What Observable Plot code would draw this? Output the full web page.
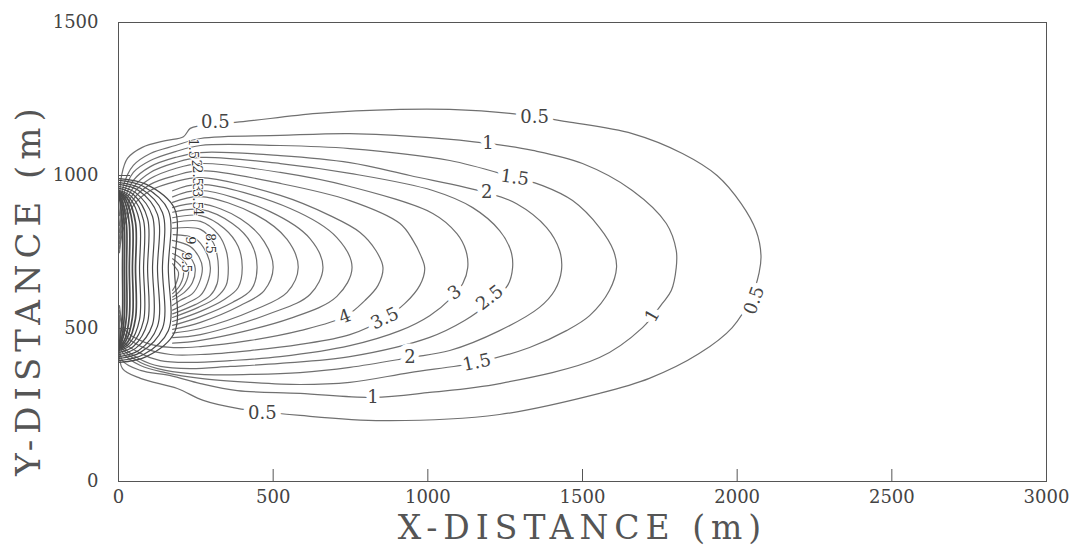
<!DOCTYPE html>
<html><head><meta charset="utf-8">
<script src="https://cdn.jsdelivr.net/npm/d3@7"></script>
<script src="https://cdn.jsdelivr.net/npm/@observablehq/plot@0.6"></script>
<style>
body{margin:0;background:#fff;}
#chart svg{display:block;}
</style></head><body><div id="chart"></div>
<script>
// Tick values
const xTicks = [0, 500, 1000, 1500, 2000, 2500, 3000];
const yTicks = [0, 500, 1000, 1500];
const xTitle = ["X-DISTANCE (m)"];
const yTitle = ["Y-DISTANCE (m)"];

// Contour points [x (m), y (m)]
const c0_5 = [[3,918],[10,1000],[29,1056],[77,1092],[152,1114],[210,1127],[232,1154],[265,1163],[403,1176],[642,1203],[910,1216],[1071,1216],[1265,1203],[1448,1176],[1661,1137],[1823,1072],[1935,1000],[2013,908],[2061,820],[2077,739],[2071,683],[2045,601],[1984,503],[1877,418],[1716,337],[1555,288],[1232,219],[855,199],[587,216],[384,239],[274,265],[190,304],[71,337],[13,369],[3,428]];
const c1 = [[3,869],[16,967],[48,1033],[103,1072],[184,1098],[265,1121],[523,1131],[748,1137],[1006,1124],[1194,1105],[1339,1082],[1500,1039],[1661,951],[1771,843],[1803,755],[1803,699],[1787,624],[1758,582],[1694,503],[1555,405],[1232,320],[1006,291],[823,275],[587,288],[384,297],[265,320],[168,346],[71,363],[13,395],[3,461]];
const c1_5 = [[3,837],[16,935],[48,1010],[103,1049],[184,1078],[265,1098],[523,1098],[748,1088],[1071,1049],[1281,993],[1371,967],[1468,918],[1555,830],[1600,755],[1610,699],[1587,624],[1523,542],[1448,493],[1329,438],[1158,389],[942,356],[748,324],[587,317],[426,324],[265,337],[152,356],[71,379],[13,422],[3,493]];
const c2 = [[3,814],[16,908],[48,984],[103,1029],[184,1059],[265,1075],[523,1065],[748,1042],[942,1000],[1190,944],[1287,908],[1384,830],[1426,755],[1432,690],[1410,624],[1361,569],[1232,493],[1071,428],[942,405],[748,373],[587,356],[426,350],[265,350],[152,363],[71,389],[13,435],[3,510]];
const c2_5 = [[3,794],[16,886],[48,961],[103,1010],[184,1042],[265,1059],[523,1039],[748,1007],[1016,951],[1145,895],[1232,820],[1268,755],[1274,699],[1258,641],[1200,585],[1119,526],[1006,471],[748,408],[523,386],[361,376],[232,369],[135,376],[65,402],[13,444],[3,526]];
const c3 = [[3,778],[16,866],[48,941],[103,990],[184,1023],[265,1039],[523,1010],[748,964],[1016,876],[1094,810],[1123,755],[1129,699],[1113,647],[1077,601],[1006,542],[910,493],[748,444],[523,408],[361,395],[232,389],[135,395],[65,422],[13,461],[3,542]];
const c3_5 = [[3,761],[16,846],[48,922],[103,971],[184,1000],[265,1016],[523,974],[748,918],[910,843],[952,788],[977,739],[990,696],[974,641],[926,582],[861,533],[748,480],[587,448],[426,428],[265,415],[168,415],[87,435],[23,477],[3,559]];
const c4 = [[3,748],[16,827],[48,902],[103,951],[184,980],[265,993],[523,935],[684,869],[781,814],[832,755],[855,699],[839,641],[797,592],[732,539],[587,493],[426,461],[265,441],[168,438],[87,454],[23,493],[3,575]];
const c4_5 = [[175,950],[265,971],[555,892],[706,797],[755,699],[706,605],[555,533],[265,461],[175,452]];
const c5 = [[175,930],[265,951],[490,882],[619,794],[661,699],[619,611],[490,549],[265,480],[175,470]];
const c5_5 = [[175,912],[265,931],[442,873],[545,791],[581,699],[545,618],[442,562],[265,500],[175,485]];
const c6 = [[175,895],[265,908],[394,859],[471,784],[500,699],[471,624],[394,575],[265,520],[175,497]];
const c6_5 = [[175,880],[265,889],[368,843],[429,778],[448,699],[429,627],[368,585],[265,539],[175,510]];
const c7 = [[175,862],[265,869],[342,827],[387,768],[400,699],[387,634],[342,595],[265,556],[175,523]];
const c7_5 = [[175,845],[265,850],[323,807],[348,755],[355,699],[348,641],[316,601],[258,569],[175,536]];
const c8 = [[175,827],[265,824],[306,781],[319,739],[323,699],[319,647],[297,608],[248,578],[175,548]];
const c8_5 = [[177,807],[248,794],[284,748],[297,699],[287,647],[265,608],[226,585],[175,560]];
const c9 = [[174,788],[232,768],[261,732],[271,699],[261,650],[239,614],[200,592],[174,575]];
const c9_5 = [[175,766],[216,748],[239,722],[248,696],[239,650],[213,618],[175,594]];
const c10 = [[175,745],[203,729],[226,696],[216,647],[187,611],[175,603]];
const c10_5 = [[175,728],[194,712],[210,690],[200,644],[175,614]];
const c11 = [[175,712],[181,703],[194,683],[184,641],[175,625]];
const c11_5 = [[3,990],[90,971],[181,892],[181,696],[181,487],[90,408],[3,389]];
const c12 = [[3,984],[81,964],[161,886],[161,696],[161,493],[81,415],[3,395]];
const c12_5 = [[3,977],[71,958],[142,879],[142,696],[142,500],[71,422],[3,402]];
const c13 = [[3,971],[65,951],[126,873],[126,696],[126,507],[65,428],[3,408]];
const c13_5 = [[3,964],[55,944],[110,866],[110,696],[110,513],[55,435],[3,415]];
const c14 = [[3,958],[48,938],[94,859],[94,696],[94,520],[48,441],[3,422]];
const c14_5 = [[3,951],[42,931],[81,853],[81,696],[81,526],[42,448],[3,428]];
const c15 = [[3,948],[35,928],[68,850],[68,696],[68,529],[35,451],[3,431]];
const c15_5 = [[3,944],[29,925],[55,846],[55,696],[55,533],[29,454],[3,435]];
const c16 = [[3,941],[23,922],[45,843],[45,696],[45,536],[23,458],[3,438]];
const c16_5 = [[3,938],[19,918],[35,840],[35,696],[35,539],[19,461],[3,441]];
const c17 = [[3,935],[13,915],[26,837],[26,696],[26,542],[13,464],[3,444]];
const c17_5 = [[3,931],[10,912],[19,833],[19,696],[19,546],[10,467],[3,448]];
const c18 = [[3,928],[6,908],[13,830],[13,696],[13,549],[6,471],[3,451]];

const contours = [
  [0.5,c0_5],[1,c1],[1.5,c1_5],[2,c2],[2.5,c2_5],[3,c3],[3.5,c3_5],[4,c4],
  [4.5,c4_5],[5,c5],[5.5,c5_5],[6,c6],[6.5,c6_5],[7,c7],[7.5,c7_5],[8,c8],
  [8.5,c8_5],[9,c9],[9.5,c9_5],[10,c10],[10.5,c10_5],[11,c11],
  [11.5,c11_5],[12,c12],[12.5,c12_5],[13,c13],[13.5,c13_5],[14,c14],[14.5,c14_5],
  [15,c15],[15.5,c15_5],[16,c16],[16.5,c16_5],[17,c17],[17.5,c17_5],[18,c18]
];

// Contour labels
const labelText = ["0.5","0.5","0.5","0.5","1","1","1","1.5","1.5","2","2","2.5","3","3.5","4"];
const labelX    = [313, 1345, 465, 2055, 1194, 823, 1726, 1281, 1158, 1190, 942, 1200, 1087, 861, 732];
const labelY    = [1173, 1190, 222, 592, 1105, 275, 542, 993, 389, 944, 405, 601, 618, 533, 539];
const labelRot  = [0, 0, 0, -70, 0, 0, -60, 8, -12, 0, 0, -38, -35, -25, -20];

const clusterText = ["1.5","2","2.5","3","3.5","4","8.5","9","9.5"];
const clusterX    = [242, 252, 255, 255, 255, 258, 297, 232, 219];
const clusterY    = [1088, 1039, 1000, 961, 922, 882, 778, 788, 716];
const clusterRot  = [90, 90, 90, 90, 90, 90, 90, 90, 90];

const rows = contours.flatMap(([level, pts]) => pts.map(([x, y]) => ({level, x, y})));
const labels = labelText.map((t, i) => ({t, x: labelX[i], y: labelY[i], r: labelRot[i]}));
const cluster = clusterText.map((t, i) => ({t, x: clusterX[i], y: clusterY[i], r: clusterRot[i]}));
const fmt = d3.format("d");
const serif = "'DejaVu Serif', serif";

const chart = Plot.plot({
  width: 1074, height: 547,
  marginLeft: 118, marginRight: 28, marginTop: 22, marginBottom: 66,
  style: {fontFamily: serif, background: "#fff", color: "#444"},
  x: {domain: [0, 3000]},
  y: {domain: [0, 1500]},
  marks: [
    Plot.line(rows, {x: "x", y: "y", z: "level", curve: "catmull-rom",
      stroke: d => d.level > 11 ? "#4a4a4a" : "#707070",
      strokeWidth: d => d.level > 15 ? 1.7 : 1.2}),
    Plot.text(labels, {x: "x", y: "y", text: "t", rotate: "r", fontSize: 18,
      fontFamily: serif, fill: "#444", stroke: "white", strokeWidth: 11}),
    Plot.text(cluster, {x: "x", y: "y", text: "t", rotate: "r", fontSize: 13,
      fontFamily: serif, fill: "#333", stroke: "white", strokeWidth: 2}),
    Plot.frame({stroke: "#555"}),
    Plot.axisX(xTicks, {tickSize: -12, tickFormat: () => "", label: null, stroke: "#555"}),
    Plot.axisX(xTicks, {tickSize: 0, tickPadding: 9, fontSize: 18, fill: "#444", tickFormat: fmt, label: null}),
    Plot.axisY(yTicks, {tickSize: -12, tickFormat: () => "", label: null, stroke: "#555"}),
    Plot.axisY(yTicks, {tickSize: 0, tickPadding: 20, fontSize: 18, fill: "#444", tickFormat: fmt, label: null}),
    Plot.text(xTitle, {frameAnchor: "bottom", dy: 47, textAnchor: "middle", lineAnchor: "middle", fontSize: 33,
      fontFamily: serif, fill: "#555"}),
    Plot.text(yTitle, {frameAnchor: "left", dx: -89, dy: 37, rotate: -90, textAnchor: "middle", lineAnchor: "middle", fontSize: 34,
      fontFamily: serif, fill: "#555"})
  ]
});
d3.select(chart).selectAll("text")
  .filter(function() { return this.textContent.includes("DISTANCE"); })
  .style("letter-spacing", "6px");
document.getElementById("chart").appendChild(chart);
</script></body></html>
